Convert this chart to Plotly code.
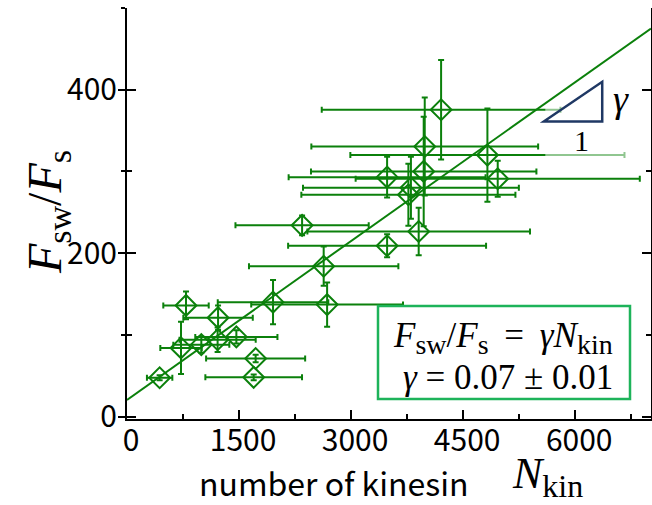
import plotly.graph_objects as go

# ---- data ----
N_KIN = [437, 1696, 1722, 723, 995, 1213, 1464, 790, 1219, 1955, 2679, 2633,
         2344, 3482, 3905, 3482, 3767, 3801, 3972, 3986, 4205, 4825, 4963]
N_KIN_ERR = [170, 647, 663, 277, 375, 510, 550, 304, 465, 740, 1016, 1000,
             892, 1325, 1490, 1318, 1433, 1445, 1509, 1518, 1598, 1835, 1902]
F_RATIO = [47.5, 48, 71, 84, 88, 94, 97.5, 136, 121, 140, 137, 184,
           234, 209, 226.5, 293, 271.5, 280, 300, 330.5, 375.5, 320, 291]
F_RATIO_ERR = [3, 3.5, 4.5, 32, 10, 15, 8, 17, 15, 27, 27, 24,
               12, 14, 29, 25, 38, 38, 67, 60, 61, 57, 22]

FIT_INTERCEPT = 20.4
FIT_SLOPE = 0.0648

X_TICKS = [0, 1500, 3000, 4500, 6000]
X_TICK_LABELS = ["0", "1500", "3000", "4500", "6000"]
Y_TICKS = [0, 200, 400]
Y_TICK_LABELS = ["0", "200", "400"]

X_RANGE = [0, 7015]
Y_RANGE = [-3, 500]

# ---- styling ----
W, H = 652, 505
ML, MR, MT, MB = 127, 1, 8, 86
GREEN = "#0b800b"
BOX_GREEN = "#1db35a"
NAVY = "#1f3864"
SANS = "Noto Sans CJK JP"
SERIF = "Liberation Serif"

PW = W - ML - MR
PH = H - MT - MB


def fx(px):
    return (px - ML) / PW


def fy(py):
    return (H - MB - py) / PH


fig = go.Figure()

fig.add_trace(go.Scatter(
    x=N_KIN, y=F_RATIO, mode="markers",
    error_x=dict(type="data", array=N_KIN_ERR, color=GREEN, thickness=2, width=3),
    error_y=dict(type="data", array=F_RATIO_ERR, color=GREEN, thickness=2, width=3),
    marker=dict(symbol="diamond-open", size=16, color=GREEN,
                line=dict(width=2, color=GREEN)),
    showlegend=False, hoverinfo="skip",
))

# translucent veil behind the slope-triangle inset (lightens the bars there)
vx0, vx1, vy0, vy1 = 5600, 6810, 308, 418
fig.add_trace(go.Scatter(
    x=[vx0, vx1, vx1, vx0, vx0], y=[vy0, vy0, vy1, vy1, vy0],
    mode="lines", fill="toself", fillcolor="rgba(255,255,255,0.55)",
    line=dict(width=0), showlegend=False, hoverinfo="skip",
))

fit_x = [X_RANGE[0], X_RANGE[1]]
fit_y = [FIT_INTERCEPT + FIT_SLOPE * v for v in fit_x]
fig.add_trace(go.Scatter(
    x=fit_x, y=fit_y, mode="lines", line=dict(color=GREEN, width=2),
    showlegend=False, hoverinfo="skip",
))

# dummy trace for the mirrored tick axis
fig.add_trace(go.Scatter(x=[None], y=[None], yaxis="y2", showlegend=False,
                         hoverinfo="skip"))

tick_font = dict(family=SANS, size=30, color="black")

fig.update_layout(
    width=W, height=H, autosize=False,
    margin=dict(l=ML, r=MR, t=MT, b=MB, autoexpand=False),
    paper_bgcolor="white", plot_bgcolor="white",
    xaxis=dict(
        range=X_RANGE, showgrid=False, zeroline=False, automargin=False,
        showline=True, linecolor="black", linewidth=2,
        ticks="inside", ticklen=9, tickwidth=2, tickcolor="black",
        tickvals=X_TICKS, ticktext=X_TICK_LABELS, tickfont=tick_font,
        ticklabelstandoff=-6, ticklabelshift=4,
        minor=dict(tick0=0, dtick=750, ticks="inside", ticklen=5,
                   tickwidth=2, tickcolor="black"),
    ),
    yaxis=dict(
        range=Y_RANGE, showgrid=False, zeroline=False, automargin=False,
        showline=True, linecolor="black", linewidth=2,
        ticks="outside", ticklen=7, tickwidth=2, tickcolor="black",
        tickvals=Y_TICKS, ticktext=Y_TICK_LABELS, tickfont=tick_font,
        ticklabelstandoff=-5,
        minor=dict(tick0=0, dtick=100, ticks="outside", ticklen=4,
                   tickwidth=2, tickcolor="black"),
    ),
    yaxis2=dict(
        overlaying="y", side="right", range=Y_RANGE, automargin=False,
        showgrid=False, zeroline=False, showticklabels=False,
        showline=True, linecolor="black", linewidth=2, mirror="ticks",
        ticks="inside", ticklen=9, tickwidth=2, tickcolor="black",
        tickvals=Y_TICKS,
        minor=dict(tick0=0, dtick=100, ticks="inside", ticklen=5,
                   tickwidth=2, tickcolor="black"),
    ),
)

# slope triangle inset
tri_x0, tri_dx, tri_y0 = 5580, 782, 361
tri_dy = FIT_SLOPE * tri_dx * 0.96
fig.add_shape(type="path",
              path=f"M {tri_x0},{tri_y0} L {tri_x0 + tri_dx},{tri_y0} "
                   f"L {tri_x0 + tri_dx},{tri_y0 + tri_dy} Z",
              xref="x", yref="y", line=dict(color=NAVY, width=2.5),
              fillcolor="rgba(255,255,255,0)", layer="above")

# formula box
fig.add_shape(type="rect", xref="paper", yref="paper",
              x0=fx(378), x1=fx(630), y0=fy(399), y1=fy(306),
              line=dict(color=BOX_GREEN, width=2.5), fillcolor="white",
              layer="above")


def sub(t, size):
    return f'<sub><span style="font-size:{size}px">{t}</span></sub>'


def A(px, py, text, family, size, angle=0):
    return dict(x=fx(px), y=fy(py), xref="paper", yref="paper",
                xanchor="center", yanchor="middle", text=text,
                showarrow=False, textangle=angle,
                font=dict(family=family, size=size, color="black"))


ann = [
    A(621, 99, "<i>γ</i>", SERIF, 38),
    A(581, 140, "1", SERIF, 30),
    A(503, 338, "<i>F</i>" + sub("sw", 28) + "/<i>F</i>" + sub("s", 28)
      + "\u2009 = \u2009<i>γN</i>" + sub("kin", 28), SERIF, 35),
    A(508, 377, "<i>γ</i> = 0.07 ± 0.01", SERIF, 35),
    A(334, 482, "number of kinesin", SANS, 32),
    A(547, 476, "<i>N</i>" + sub("kin", 32), SERIF, 44),
    A(48, 212, "<i>F</i>" + sub("sw", 34) + "/<i>F</i>" + sub("s", 34),
      SERIF, 48, angle=-90),
]
fig.update_layout(annotations=ann)

fig.write_html("out.html",
               config={"displayModeBar": False},
               post_script="document.body.style.margin='0';"
                           "document.body.style.padding='0';")
